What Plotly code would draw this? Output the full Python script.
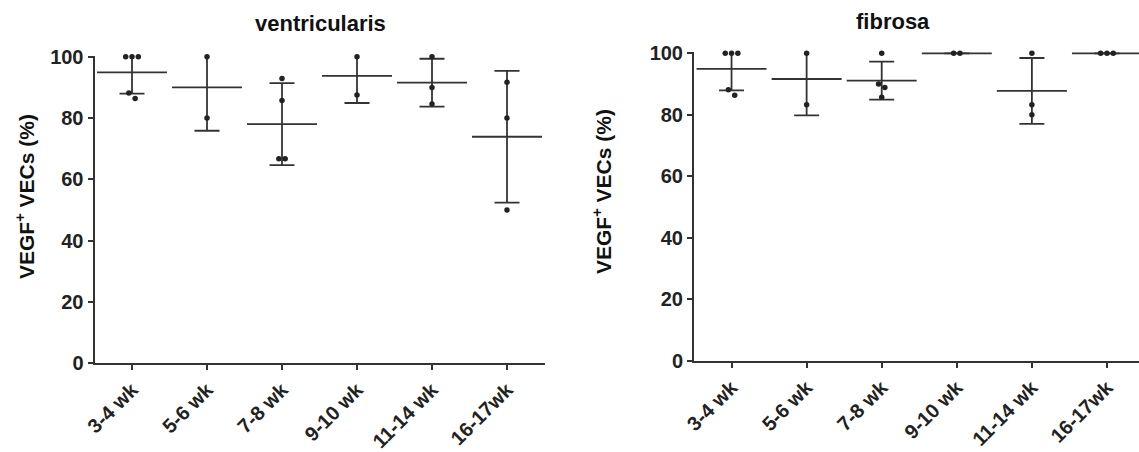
import numpy as np
import plotly.graph_objects as go

categories = ["3-4 wk", "5-6 wk", "7-8 wk", "9-10 wk", "11-14 wk", "16-17wk"]

# individual values per age group (% VEGF+ VECs)
ventricularis = [
    [100, 100, 100, 88.2, 86.4],
    [100, 80],
    [92.9, 85.7, 66.7, 66.7],
    [100, 87.5],
    [100, 90, 84.6],
    [91.7, 80, 50],
]
fibrosa = [
    [100, 100, 100, 88.2, 86.4],
    [100, 83.3],
    [100, 90, 88.9, 85.7],
    [100, 100],
    [100, 83.3, 80],
    [100, 100, 100],
]

panel_titles = ["ventricularis", "fibrosa"]
y_title = "VEGF<sup>+</sup> VECs (%)"
y_ticks = [0, 20, 40, 60, 80, 100]

LINE = "#333333"
DOT = "#222222"
FONT = "Liberation Sans"


def scatter_positions(groups, thresh=2.5, step=0.084):
    xs, ys = [], []
    for gi, vals in enumerate(groups):
        v = sorted(vals, reverse=True)
        clusters = [[v[0]]]
        for a in v[1:]:
            if clusters[-1][-1] - a < thresh:
                clusters[-1].append(a)
            else:
                clusters.append([a])
        for c in clusters:
            n = len(c)
            for i, a in enumerate(c):
                xs.append(gi + (i - (n - 1) / 2) * step)
                ys.append(a)
    return xs, ys


fig = go.Figure()

panels = [
    (ventricularis, "x", "y"),
    (fibrosa, "x2", "y2"),
]
for data, xa, ya in panels:
    means = [float(np.mean(g)) for g in data]
    sds = [float(np.std(g, ddof=1)) for g in data]
    fig.add_trace(go.Scatter(
        x=list(range(len(categories))), y=means, xaxis=xa, yaxis=ya,
        mode="markers", cliponaxis=True,
        marker=dict(symbol="line-ew", size=50, color=LINE,
                    line=dict(width=1.8, color=LINE)),
        error_y=dict(type="data", array=sds, visible=True, width=12.5,
                     thickness=1.8, color=LINE),
        showlegend=False, hoverinfo="skip",
    ))
    px, py = scatter_positions(data)
    fig.add_trace(go.Scatter(
        x=px, y=py, xaxis=xa, yaxis=ya, mode="markers", cliponaxis=False,
        marker=dict(size=5.5, color=DOT), showlegend=False,
    ))

W, H = 1139, 452
axis_common = dict(showline=True, linecolor=LINE, linewidth=2, ticks="outside",
                   ticklen=5, tickwidth=2, tickcolor=LINE, showgrid=False,
                   zeroline=False, automargin=False,
                   tickfont=dict(family=FONT, size=20, color="#222222",
                                 weight="bold"))

xkw = dict(axis_common, tickmode="array", tickvals=list(range(len(categories))),
           ticktext=categories, tickangle=-45)
ykw = dict(axis_common, tickmode="array", tickvals=y_ticks,
           ticktext=[str(t) for t in y_ticks], range=[0, 100.4])

fig.update_layout(
    template="none",
    width=W, height=H, margin=dict(l=0, r=0, t=0, b=0),
    plot_bgcolor="white", paper_bgcolor="white",
    xaxis=dict(xkw, domain=[94.5 / W, 544.5 / W], range=[-0.5, 5.5], anchor="y"),
    yaxis=dict(ykw, domain=[(H - 363.3) / H, (H - 55.5) / H], anchor="x"),
    xaxis2=dict(xkw, domain=[694 / W, 1.0], range=[-0.5, 5.5 - 5.5 / 75], anchor="y2"),
    yaxis2=dict(ykw, domain=[(H - 361) / H, (H - 52.1) / H], anchor="x2"),
)

annotations = [
    dict(text=panel_titles[0], x=320 / W, y=(H - 23) / H),
    dict(text=panel_titles[1], x=893 / W, y=(H - 22) / H),
]
for a in annotations:
    fig.add_annotation(xref="paper", yref="paper", showarrow=False,
                       xanchor="center", yanchor="middle",
                       font=dict(family=FONT, size=22, color="#111111",
                                 weight="bold"), **a)
for xc, yc in [(25, 197), (602, 192)]:
    fig.add_annotation(xref="paper", yref="paper", showarrow=False,
                       x=xc / W, y=(H - yc) / H, textangle=-90,
                       xanchor="center", yanchor="middle",
                       text=y_title,
                       font=dict(family=FONT, size=21, color="#111111",
                                 weight="bold"))

fig.write_html("out.html",
               config={"displayModeBar": False},
               post_script="document.body.style.margin='0';"
                           "document.body.style.overflow='hidden';")
